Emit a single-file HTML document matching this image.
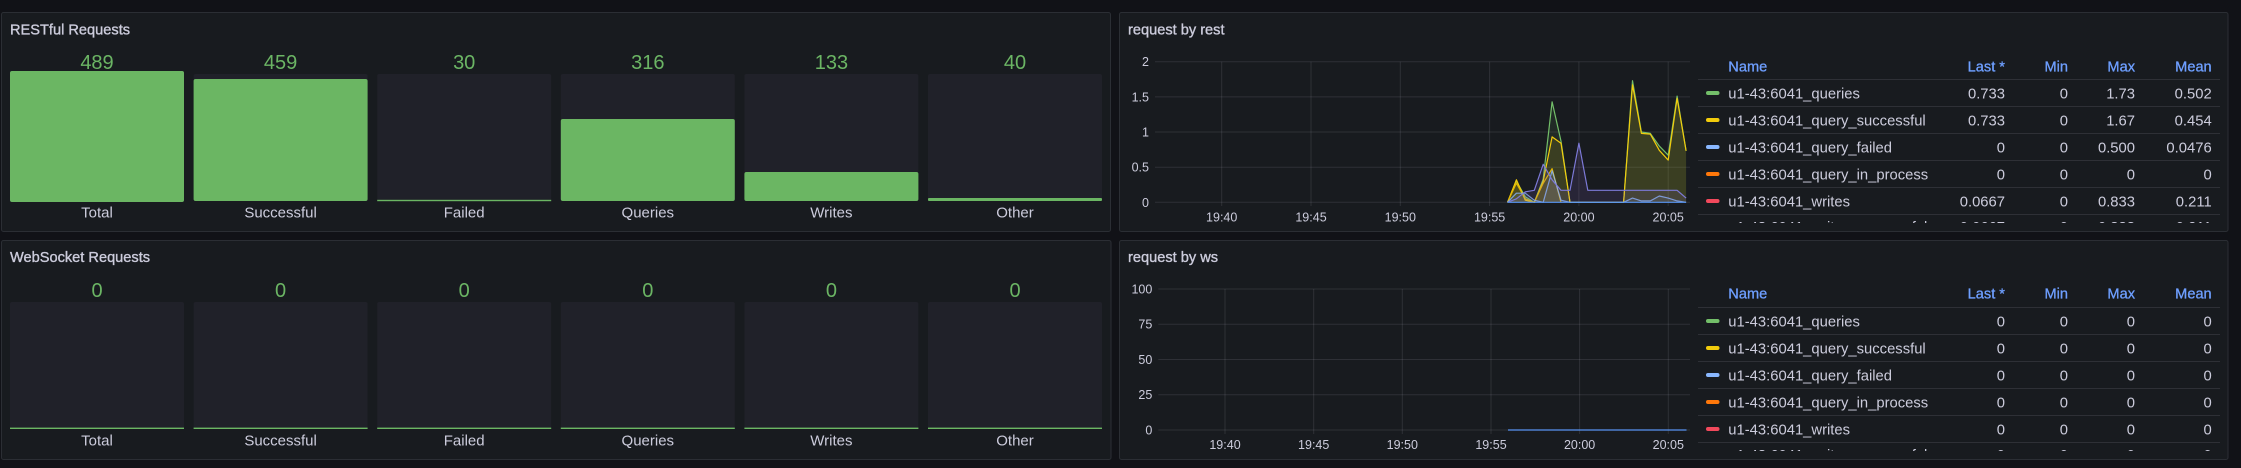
<!DOCTYPE html>
<html><head><meta charset="utf-8">
<style>
html,body{margin:0;padding:0;background:#111217;}
svg{display:block;}
text{font-family:"Liberation Sans",Arial,sans-serif;}
.t{fill:#ccccdc;font-size:14.6px;stroke:#ccccdc;stroke-width:0.35px;}
.v{fill:#6bb564;font-size:20px;text-anchor:middle;}
.bl{fill:#ccccdc;font-size:15px;text-anchor:middle;}
.ax{fill:#ccccdc;font-size:12.5px;}
.axr{fill:#ccccdc;font-size:12.5px;text-anchor:end;}
.axc{fill:#ccccdc;font-size:12.5px;text-anchor:middle;}
.lh{fill:#6e9fff;font-size:14.6px;stroke:#6e9fff;stroke-width:0.3px;}
.lhr{fill:#6e9fff;font-size:14.6px;stroke:#6e9fff;stroke-width:0.3px;text-anchor:end;}
.ln{fill:#ccccdc;font-size:14.8px;}
.lv{fill:#ccccdc;font-size:14.8px;text-anchor:end;}
</style></head>
<body>
<svg width="2241" height="468" viewBox="0 0 2241 468" xmlns="http://www.w3.org/2000/svg">
<rect x="0" y="0" width="2241" height="468" fill="#111217"/>
<defs>
<clipPath id="c1"><rect x="1690" y="60" width="540" height="163"/></clipPath>
<clipPath id="c2"><rect x="1690" y="288" width="540" height="163"/></clipPath>
</defs>

<!-- Panels -->
<rect x="1.5" y="12.5" width="1109" height="219" rx="2" fill="#181b1f" stroke="#2b2e34" stroke-width="1"/>
<rect x="1119.5" y="12.5" width="1108.5" height="219" rx="2" fill="#181b1f" stroke="#2b2e34" stroke-width="1"/>
<rect x="1.5" y="240.5" width="1109.5" height="219" rx="2" fill="#181b1f" stroke="#2b2e34" stroke-width="1"/>
<rect x="1119.5" y="240.5" width="1108.5" height="219" rx="2" fill="#181b1f" stroke="#2b2e34" stroke-width="1"/>

<!-- ========== Panel 1: RESTful Requests ========== -->
<text class="t" x="10" y="34.5">RESTful Requests</text>
<g>
<rect x="10" y="74" width="174" height="127" rx="2" fill="#202129"/>
<rect x="193.6" y="74" width="174" height="127" rx="2" fill="#202129"/>
<rect x="377.2" y="74" width="174" height="127" rx="2" fill="#202129"/>
<rect x="560.8" y="74" width="174" height="127" rx="2" fill="#202129"/>
<rect x="744.4" y="74" width="174" height="127" rx="2" fill="#202129"/>
<rect x="928" y="74" width="174" height="127" rx="2" fill="#202129"/>

<rect x="10" y="71" width="174" height="131" rx="2" fill="#6bb663"/>
<rect x="193.6" y="79" width="174" height="122" rx="2" fill="#6bb663"/>
<rect x="377.2" y="199.8" width="174" height="1.4" fill="#6bb663"/>
<rect x="560.8" y="119" width="174" height="82" rx="2" fill="#6bb663"/>
<rect x="744.4" y="172" width="174" height="29" rx="2" fill="#6bb663"/>
<rect x="928" y="198" width="174" height="3" rx="1" fill="#6bb663"/>
</g>
<text class="v" x="97" y="68.8">489</text>
<text class="v" x="280.6" y="68.8">459</text>
<text class="v" x="464.2" y="68.8">30</text>
<text class="v" x="647.8" y="68.8">316</text>
<text class="v" x="831.4" y="68.8">133</text>
<text class="v" x="1015" y="68.8">40</text>
<text class="bl" x="97" y="217.7">Total</text>
<text class="bl" x="280.6" y="217.7">Successful</text>
<text class="bl" x="464.2" y="217.7">Failed</text>
<text class="bl" x="647.8" y="217.7">Queries</text>
<text class="bl" x="831.4" y="217.7">Writes</text>
<text class="bl" x="1015" y="217.7">Other</text>

<!-- ========== Panel 3: WebSocket Requests ========== -->
<text class="t" x="10" y="262.2">WebSocket Requests</text>
<g>
<rect x="10" y="302" width="174" height="127" rx="2" fill="#202129"/>
<rect x="193.6" y="302" width="174" height="127" rx="2" fill="#202129"/>
<rect x="377.2" y="302" width="174" height="127" rx="2" fill="#202129"/>
<rect x="560.8" y="302" width="174" height="127" rx="2" fill="#202129"/>
<rect x="744.4" y="302" width="174" height="127" rx="2" fill="#202129"/>
<rect x="928" y="302" width="174" height="127" rx="2" fill="#202129"/>
<rect x="10" y="427.6" width="174" height="1.4" fill="#6bb663"/>
<rect x="193.6" y="427.6" width="174" height="1.4" fill="#6bb663"/>
<rect x="377.2" y="427.6" width="174" height="1.4" fill="#6bb663"/>
<rect x="560.8" y="427.6" width="174" height="1.4" fill="#6bb663"/>
<rect x="744.4" y="427.6" width="174" height="1.4" fill="#6bb663"/>
<rect x="928" y="427.6" width="174" height="1.4" fill="#6bb663"/>
</g>
<text class="v" x="97" y="297">0</text>
<text class="v" x="280.6" y="297">0</text>
<text class="v" x="464.2" y="297">0</text>
<text class="v" x="647.8" y="297">0</text>
<text class="v" x="831.4" y="297">0</text>
<text class="v" x="1015" y="297">0</text>
<text class="bl" x="97" y="445.4">Total</text>
<text class="bl" x="280.6" y="445.4">Successful</text>
<text class="bl" x="464.2" y="445.4">Failed</text>
<text class="bl" x="647.8" y="445.4">Queries</text>
<text class="bl" x="831.4" y="445.4">Writes</text>
<text class="bl" x="1015" y="445.4">Other</text>

<!-- ========== Panel 2: request by rest ========== -->
<text class="t" x="1128" y="34.5">request by rest</text>
<g stroke="rgba(204,204,220,0.12)" stroke-width="1">
<line x1="1155" y1="61.7" x2="1690" y2="61.7"/>
<line x1="1155" y1="96.9" x2="1690" y2="96.9"/>
<line x1="1155" y1="132" x2="1690" y2="132"/>
<line x1="1155" y1="167.2" x2="1690" y2="167.2"/>
<line x1="1155" y1="202.3" x2="1690" y2="202.3"/>
<line x1="1221.7" y1="61.7" x2="1221.7" y2="206"/>
<line x1="1311" y1="61.7" x2="1311" y2="206"/>
<line x1="1400.3" y1="61.7" x2="1400.3" y2="206"/>
<line x1="1489.6" y1="61.7" x2="1489.6" y2="206"/>
<line x1="1578.9" y1="61.7" x2="1578.9" y2="206"/>
<line x1="1668.2" y1="61.7" x2="1668.2" y2="206"/>
</g>
<text class="axr" x="1149" y="66.2">2</text>
<text class="axr" x="1149" y="101.4">1.5</text>
<text class="axr" x="1149" y="136.5">1</text>
<text class="axr" x="1149" y="171.7">0.5</text>
<text class="axr" x="1149" y="206.8">0</text>
<text class="axc" x="1221.7" y="221.5">19:40</text>
<text class="axc" x="1311" y="221.5">19:45</text>
<text class="axc" x="1400.3" y="221.5">19:50</text>
<text class="axc" x="1489.6" y="221.5">19:55</text>
<text class="axc" x="1578.9" y="221.5">20:00</text>
<text class="axc" x="1668.2" y="221.5">20:05</text>

<!-- series -->
<g stroke-width="1.2" stroke-linejoin="round">
<!-- green queries -->
<path d="M1507.5,202.3 L1516.4,181.2 L1525.3,196.7 L1534.3,202.3 L1543.2,179.1 L1552.1,101.8 L1561.0,141.1 L1570.0,202.3 L1623.6,202.3 L1632.5,80.7 L1641.4,132.0 L1650.3,133.4 L1659.3,146.1 L1668.2,155.2 L1677.1,96.1 L1686.1,150.8 L1686.1,202.3 Z" fill="#73BF69" fill-opacity="0.1" stroke="none"/>
<polyline points="1507.5,202.3 1516.4,181.2 1525.3,196.7 1534.3,202.3 1543.2,179.1 1552.1,101.8 1561.0,141.1 1570.0,202.3 1623.6,202.3 1632.5,80.7 1641.4,132.0 1650.3,133.4 1659.3,146.1 1668.2,155.2 1677.1,96.1 1686.1,150.8" fill="none" stroke="#73BF69"/>
<!-- yellow successful -->
<path d="M1507.5,202.3 L1516.4,179.8 L1525.3,200.2 L1534.3,202.3 L1543.2,181.2 L1552.1,136.9 L1561.0,143.2 L1570.0,202.3 L1623.6,202.3 L1632.5,84.9 L1641.4,133.4 L1650.3,134.1 L1659.3,150.3 L1668.2,160.1 L1677.1,98.3 L1686.1,150.8 L1686.1,202.3 Z" fill="#F2CC0C" fill-opacity="0.12" stroke="none"/>
<polyline points="1507.5,202.3 1516.4,179.8 1525.3,200.2 1534.3,202.3 1543.2,181.2 1552.1,136.9 1561.0,143.2 1570.0,202.3 1623.6,202.3 1632.5,84.9 1641.4,133.4 1650.3,134.1 1659.3,150.3 1668.2,160.1 1677.1,98.3 1686.1,150.8" fill="none" stroke="#F2CC0C"/>
<!-- dark yellow -->
<path d="M1507.5,202.3 L1516.4,183.3 L1525.3,198.8 L1534.3,202.3 L1543.2,183.3 L1552.1,168.6 L1561.0,202.3 Z" fill="#E0B400" fill-opacity="0.12" stroke="none"/>
<polyline points="1507.5,202.3 1516.4,183.3 1525.3,198.8 1534.3,202.3 1543.2,183.3 1552.1,168.6 1561.0,202.3" fill="none" stroke="#E0B400"/>
<!-- light blue failed -->
<path d="M1507.5,202.3 L1516.4,193.2 L1525.3,193.2 L1534.3,200.2 L1543.2,202.3 L1552.1,170.7 L1561.0,200.2 L1570.0,202.3 L1623.6,202.3 L1632.5,198.1 L1641.4,200.9 L1650.3,200.9 L1659.3,196.0 L1668.2,198.1 L1677.1,200.9 L1686.1,202.3 Z" fill="#8AB8FF" fill-opacity="0.1" stroke="none"/>
<polyline points="1507.5,202.3 1516.4,193.2 1525.3,193.2 1534.3,200.2 1543.2,202.3 1552.1,170.7 1561.0,200.2 1570.0,202.3 1623.6,202.3 1632.5,198.1 1641.4,200.9 1650.3,200.9 1659.3,196.0 1668.2,198.1 1677.1,200.9 1686.1,202.3" fill="none" stroke="#8AB8FF" stroke-opacity="0.8"/>
<!-- lavender writes -->
<path d="M1507.5,202.3 L1516.4,198.8 L1525.3,191.8 L1534.3,190.3 L1543.2,164.3 L1552.1,179.8 L1561.0,190.3 L1570.0,190.3 L1578.9,143.2 L1587.8,190.3 L1677.1,190.3 L1686.1,198.1 L1686.1,202.3 Z" fill="#9a6fd6" fill-opacity="0.13" stroke="none"/>
<polyline points="1507.5,202.3 1516.4,198.8 1525.3,191.8 1534.3,190.3 1543.2,164.3 1552.1,179.8 1561.0,190.3 1570.0,190.3 1578.9,143.2 1587.8,190.3 1677.1,190.3 1686.1,198.1" fill="none" stroke="#7d7ad8"/>
<!-- blue baseline -->
<line x1="1507.5" y1="202.3" x2="1686.1" y2="202.3" stroke="#5794F2"/>
</g>

<!-- legend rest -->
<text class="lh" x="1728.3" y="71.3">Name</text>
<text class="lhr" x="2005" y="71.3">Last *</text>
<text class="lhr" x="2068" y="71.3">Min</text>
<text class="lhr" x="2135" y="71.3">Max</text>
<text class="lhr" x="2211.7" y="71.3">Mean</text>
<g stroke="rgba(204,204,220,0.12)" stroke-width="1">
<line x1="1698" y1="79.5" x2="2220" y2="79.5"/>
<line x1="1698" y1="106.5" x2="2220" y2="106.5"/>
<line x1="1698" y1="133.5" x2="2220" y2="133.5"/>
<line x1="1698" y1="160.5" x2="2220" y2="160.5"/>
<line x1="1698" y1="187.5" x2="2220" y2="187.5"/>
<line x1="1698" y1="214.5" x2="2220" y2="214.5"/>
</g>
<rect x="1706" y="91" width="13.5" height="4" rx="2" fill="#73BF69"/>
<rect x="1706" y="118" width="13.5" height="4" rx="2" fill="#F2CC0C"/>
<rect x="1706" y="145" width="13.5" height="4" rx="2" fill="#8AB8FF"/>
<rect x="1706" y="172" width="13.5" height="4" rx="2" fill="#FF780A"/>
<rect x="1706" y="199" width="13.5" height="4" rx="2" fill="#F2495C"/>
<g>
<text class="ln" x="1728.3" y="98.3">u1-43:6041_queries</text>
<text class="lv" x="2005" y="98.3">0.733</text><text class="lv" x="2068" y="98.3">0</text><text class="lv" x="2135" y="98.3">1.73</text><text class="lv" x="2211.7" y="98.3">0.502</text>
<text class="ln" x="1728.3" y="125.3">u1-43:6041_query_successful</text>
<text class="lv" x="2005" y="125.3">0.733</text><text class="lv" x="2068" y="125.3">0</text><text class="lv" x="2135" y="125.3">1.67</text><text class="lv" x="2211.7" y="125.3">0.454</text>
<text class="ln" x="1728.3" y="152.3">u1-43:6041_query_failed</text>
<text class="lv" x="2005" y="152.3">0</text><text class="lv" x="2068" y="152.3">0</text><text class="lv" x="2135" y="152.3">0.500</text><text class="lv" x="2211.7" y="152.3">0.0476</text>
<text class="ln" x="1728.3" y="179.3">u1-43:6041_query_in_process</text>
<text class="lv" x="2005" y="179.3">0</text><text class="lv" x="2068" y="179.3">0</text><text class="lv" x="2135" y="179.3">0</text><text class="lv" x="2211.7" y="179.3">0</text>
<text class="ln" x="1728.3" y="206.3">u1-43:6041_writes</text>
<text class="lv" x="2005" y="206.3">0.0667</text><text class="lv" x="2068" y="206.3">0</text><text class="lv" x="2135" y="206.3">0.833</text><text class="lv" x="2211.7" y="206.3">0.211</text>
</g>
<g clip-path="url(#c1)">
<text class="ln" x="1728.3" y="232">u1-43:6041_writes_successful</text>
<text class="lv" x="2005" y="232">0.0667</text><text class="lv" x="2068" y="232">0</text><text class="lv" x="2135" y="232">0.833</text><text class="lv" x="2211.7" y="232">0.211</text>
</g>

<!-- ========== Panel 4: request by ws ========== -->
<text class="t" x="1128" y="262.2">request by ws</text>
<g stroke="rgba(204,204,220,0.12)" stroke-width="1">
<line x1="1158.3" y1="289" x2="1690" y2="289"/>
<line x1="1158.3" y1="324.2" x2="1690" y2="324.2"/>
<line x1="1158.3" y1="359.5" x2="1690" y2="359.5"/>
<line x1="1158.3" y1="394.7" x2="1690" y2="394.7"/>
<line x1="1158.3" y1="430" x2="1690" y2="430"/>
<line x1="1225" y1="289" x2="1225" y2="434"/>
<line x1="1313.7" y1="289" x2="1313.7" y2="434"/>
<line x1="1402.3" y1="289" x2="1402.3" y2="434"/>
<line x1="1491" y1="289" x2="1491" y2="434"/>
<line x1="1579.6" y1="289" x2="1579.6" y2="434"/>
<line x1="1668.3" y1="289" x2="1668.3" y2="434"/>
</g>
<text class="axr" x="1152.3" y="293.5">100</text>
<text class="axr" x="1152.3" y="328.7">75</text>
<text class="axr" x="1152.3" y="364">50</text>
<text class="axr" x="1152.3" y="399.2">25</text>
<text class="axr" x="1152.3" y="434.5">0</text>
<text class="axc" x="1225" y="448.8">19:40</text>
<text class="axc" x="1313.7" y="448.8">19:45</text>
<text class="axc" x="1402.3" y="448.8">19:50</text>
<text class="axc" x="1491" y="448.8">19:55</text>
<text class="axc" x="1579.6" y="448.8">20:00</text>
<text class="axc" x="1668.3" y="448.8">20:05</text>
<line x1="1508" y1="430" x2="1686.5" y2="430" stroke="#5794F2" stroke-width="1.2"/>

<!-- legend ws -->
<text class="lh" x="1728.3" y="298.6">Name</text>
<text class="lhr" x="2005" y="298.6">Last *</text>
<text class="lhr" x="2068" y="298.6">Min</text>
<text class="lhr" x="2135" y="298.6">Max</text>
<text class="lhr" x="2211.7" y="298.6">Mean</text>
<g stroke="rgba(204,204,220,0.12)" stroke-width="1">
<line x1="1698" y1="307.5" x2="2220" y2="307.5"/>
<line x1="1698" y1="334.5" x2="2220" y2="334.5"/>
<line x1="1698" y1="361.5" x2="2220" y2="361.5"/>
<line x1="1698" y1="388.5" x2="2220" y2="388.5"/>
<line x1="1698" y1="415.5" x2="2220" y2="415.5"/>
<line x1="1698" y1="442.5" x2="2220" y2="442.5"/>
</g>
<rect x="1706" y="319" width="13.5" height="4" rx="2" fill="#73BF69"/>
<rect x="1706" y="346" width="13.5" height="4" rx="2" fill="#F2CC0C"/>
<rect x="1706" y="373" width="13.5" height="4" rx="2" fill="#8AB8FF"/>
<rect x="1706" y="400" width="13.5" height="4" rx="2" fill="#FF780A"/>
<rect x="1706" y="427" width="13.5" height="4" rx="2" fill="#F2495C"/>
<g>
<text class="ln" x="1728.3" y="326.3">u1-43:6041_queries</text>
<text class="lv" x="2005" y="326.3">0</text><text class="lv" x="2068" y="326.3">0</text><text class="lv" x="2135" y="326.3">0</text><text class="lv" x="2211.7" y="326.3">0</text>
<text class="ln" x="1728.3" y="353.3">u1-43:6041_query_successful</text>
<text class="lv" x="2005" y="353.3">0</text><text class="lv" x="2068" y="353.3">0</text><text class="lv" x="2135" y="353.3">0</text><text class="lv" x="2211.7" y="353.3">0</text>
<text class="ln" x="1728.3" y="380.3">u1-43:6041_query_failed</text>
<text class="lv" x="2005" y="380.3">0</text><text class="lv" x="2068" y="380.3">0</text><text class="lv" x="2135" y="380.3">0</text><text class="lv" x="2211.7" y="380.3">0</text>
<text class="ln" x="1728.3" y="407.3">u1-43:6041_query_in_process</text>
<text class="lv" x="2005" y="407.3">0</text><text class="lv" x="2068" y="407.3">0</text><text class="lv" x="2135" y="407.3">0</text><text class="lv" x="2211.7" y="407.3">0</text>
<text class="ln" x="1728.3" y="434.3">u1-43:6041_writes</text>
<text class="lv" x="2005" y="434.3">0</text><text class="lv" x="2068" y="434.3">0</text><text class="lv" x="2135" y="434.3">0</text><text class="lv" x="2211.7" y="434.3">0</text>
</g>
<g clip-path="url(#c2)">
<text class="ln" x="1728.3" y="460">u1-43:6041_writes_successful</text>
<text class="lv" x="2005" y="460">0</text><text class="lv" x="2068" y="460">0</text><text class="lv" x="2135" y="460">0</text><text class="lv" x="2211.7" y="460">0</text>
</g>
</svg>
</body></html>
